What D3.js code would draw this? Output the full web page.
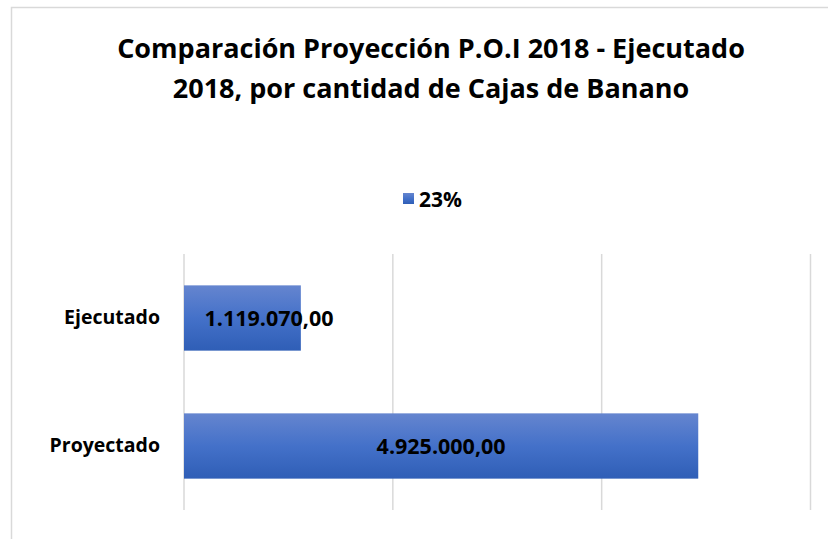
<!DOCTYPE html>
<html><head><meta charset="utf-8">
<script src="https://cdn.jsdelivr.net/npm/d3@7"></script>
<style>body{margin:0;background:#fff}svg{display:block}</style>
</head><body>
<script>
const categories = ["Ejecutado", "Proyectado"];
const values = [1119070, 4925000];
const labels = ["1.119.070,00", "4.925.000,00"];
const legendLabel = "23%";
const titleLines = ["Comparación Proyección P.O.I 2018 - Ejecutado", "2018, por cantidad de Cajas de Banano"];
const gridTicks = [0, 2000000, 4000000, 6000000];

const W = 828, H = 539;
const font = "'Open Sans', 'Noto Sans', sans-serif";
const svg = d3.select("body").append("svg").attr("width", W).attr("height", H);

svg.append("rect").attr("x", 11.5).attr("y", 7.5).attr("width", W + 10).attr("height", H + 10)
  .attr("fill", "#fff").attr("stroke", "#d9d9d9").attr("stroke-width", 1.5);

const defs = svg.append("defs");
const g = defs.append("linearGradient").attr("id", "barGrad").attr("x1", 0).attr("y1", 0).attr("x2", 0).attr("y2", 1);
g.append("stop").attr("offset", "0%").attr("stop-color", "#6585cf");
g.append("stop").attr("offset", "50%").attr("stop-color", "#4471c9");
g.append("stop").attr("offset", "100%").attr("stop-color", "#2f5eb6");

const title = svg.append("text").attr("text-anchor", "middle").attr("font-family", font)
  .attr("font-weight", "bold").attr("font-size", 27).attr("fill", "#000");
titleLines.forEach((t, i) => title.append("tspan").attr("x", 431).attr("y", 58 + i * 40).text(t));

const x = d3.scaleLinear().domain([0, 6000000]).range([184, 810.5]);
const y = d3.scaleBand().domain(categories).range([254, 510]).paddingInner(0.49).paddingOuter(0.245);

svg.append("g").selectAll("line").data(gridTicks).join("line")
  .attr("x1", d => x(d)).attr("x2", d => x(d)).attr("y1", 254).attr("y2", 510)
  .attr("stroke", "#d9d9d9").attr("stroke-width", 1.5);

svg.append("g").selectAll("rect").data(values).join("rect")
  .attr("x", x(0)).attr("y", (d, i) => y(categories[i]))
  .attr("width", d => x(d) - x(0)).attr("height", y.bandwidth())
  .attr("fill", "url(#barGrad)");

svg.append("g").selectAll("text").data(values).join("text")
  .attr("x", d => Math.max((x(0) + x(d)) / 2, x(0) + 85))
  .attr("y", (d, i) => y(categories[i]) + y.bandwidth() / 2)
  .attr("dy", "0.36em").attr("text-anchor", "middle")
  .attr("font-family", font).attr("font-weight", "bold").attr("font-size", 21.5).attr("fill", "#000")
  .text((d, i) => labels[i]);

const yAxis = svg.append("g").attr("transform", `translate(${x(0)},0)`)
  .call(d3.axisLeft(y).tickSize(0).tickPadding(24));
yAxis.select(".domain").remove();
yAxis.selectAll("text").attr("font-family", font).attr("font-weight", "bold").attr("font-size", 19.5).attr("fill", "#000");

const leg = svg.append("g");
leg.append("rect").attr("x", 403).attr("y", 193).attr("width", 11).attr("height", 11).attr("fill", "url(#barGrad)");
leg.append("text").attr("x", 419).attr("y", 199).attr("dy", "0.36em").attr("font-family", font)
  .attr("font-weight", "bold").attr("font-size", 21).attr("fill", "#000").text(legendLabel);
</script>
</body></html>
